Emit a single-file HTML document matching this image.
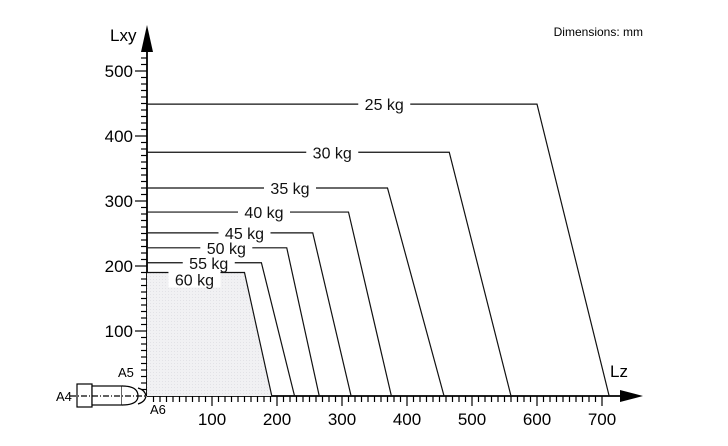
<!DOCTYPE html>
<html><head><meta charset="utf-8"><style>
body{margin:0;background:#fff}
svg{display:block;font-family:"Liberation Sans",sans-serif}
</style></head><body>
<svg id="chart" width="728" height="446" viewBox="0 0 728 446">
<defs><pattern id="dots" width="3" height="3" patternUnits="userSpaceOnUse"><rect width="3" height="3" fill="#f1f1f3"/><rect width="1" height="1" fill="#e2e2e6"/></pattern></defs>
<text x="643" y="36" font-size="12" text-anchor="end">Dimensions: mm</text>
<g id="axes"></g>
<g id="series"></g>
</svg>
<script>
const loads=["25 kg","30 kg","35 kg","40 kg","45 kg","50 kg","55 kg","60 kg"];
const lxyValues=[449,375,320,283,251,228,205,190];
const kinkLz=[600,465,370,310,255,215,176,150];
const maxLz=[711,560,457,376,314,265,227,192];
const labelLz=[365,285,220,180,150,122,95,73];
const labelDy=[0,0,0,0,0,0,0,7];
const xTicks=[100,200,300,400,500,600,700];
const yTicks=[100,200,300,400,500];
const X0=147,Y0=396,S=0.65;
const sx=v=>X0+v*S, sy=v=>Y0-v*S;
const NS="http://www.w3.org/2000/svg";
function mk(p,t,a){const e=document.createElementNS(NS,t);for(const k in a)e.setAttribute(k,a[k]);p.appendChild(e);return e;}
const ax=document.getElementById('axes'), se=document.getElementById('series');
const li=loads.length-1;
const sh=mk(se,'polygon',{points:`${X0},${sy(lxyValues[li])} ${sx(kinkLz[li])},${sy(lxyValues[li])} ${sx(maxLz[li])},${Y0} ${X0},${Y0}`,fill:'url(#dots)'});


loads.forEach((n,i)=>{
  const y=sy(lxyValues[i]);
  const pl=mk(se,'polyline',{points:`${X0},${y} ${sx(kinkLz[i])},${y} ${sx(maxLz[i])},${Y0}`,fill:'none',stroke:'#111','stroke-width':1.2});
  
  
  const cx=sx(labelLz[i]), cy=y+labelDy[i];
  mk(se,'rect',{x:cx-26,y:cy-8,width:52,height:16,fill:'#fff'});
  const t=mk(se,'text',{x:cx,y:cy+6,'font-size':16,'text-anchor':'middle',fill:'#111'});
  t.textContent=n;
  
  
});
mk(ax,'line',{x1:X0,y1:Y0,x2:632,y2:Y0,stroke:'#000','stroke-width':1.8});
mk(ax,'polygon',{points:`620,390 643,396 620,402`,fill:'#000'});
mk(ax,'line',{x1:X0,y1:Y0,x2:X0,y2:40,stroke:'#000','stroke-width':1.8});
mk(ax,'polygon',{points:`141,52 147,25 153,52`,fill:'#000'});
for(let v=10;v<=700;v+=10){const x=sx(v);mk(ax,'line',{x1:x,y1:Y0,x2:x,y2:Y0+(v%100?6:10),stroke:'#000','stroke-width':1.2});}
for(let v=10;v<=520;v+=10){const y=sy(v);mk(ax,'line',{x1:X0,y1:y,x2:X0-(v%100?6:12),y2:y,stroke:'#000','stroke-width':1.2});}
xTicks.forEach(v=>{const t=mk(ax,'text',{x:sx(v),y:425,'font-size':17,'text-anchor':'middle'});t.textContent=v;

});
yTicks.forEach(v=>{const t=mk(ax,'text',{x:133,y:sy(v)+6,'font-size':17,'text-anchor':'end'});t.textContent=v;

});
const lz=mk(ax,'text',{x:610,y:377,'font-size':17});lz.textContent='Lz';


const lxy=mk(ax,'text',{x:110,y:41,'font-size':17});lxy.textContent='Lxy';


const g=mk(ax,'g',{stroke:'#000','stroke-width':1.2,fill:'#fff'});


mk(g,'rect',{x:77,y:384,width:15,height:23});
mk(g,'rect',{x:92,y:386,width:30,height:19});
mk(g,'path',{d:'M122,386 Q138,386 138,396 Q138,405 122,405',fill:'#fff'});
mk(g,'path',{d:'M138,388 Q145,390 146,396 Q145,402 138,404',fill:'none'});
mk(g,'line',{x1:70,y1:396,x2:147,y2:396,'stroke-dasharray':'6,2,1,2'});
[['A4',56,401],['A5',118,377],['A6',150,414]].forEach(([s,x,y])=>{const t=mk(ax,'text',{x:x,y:y,'font-size':13});t.textContent=s;

});
</script>
</body></html>
